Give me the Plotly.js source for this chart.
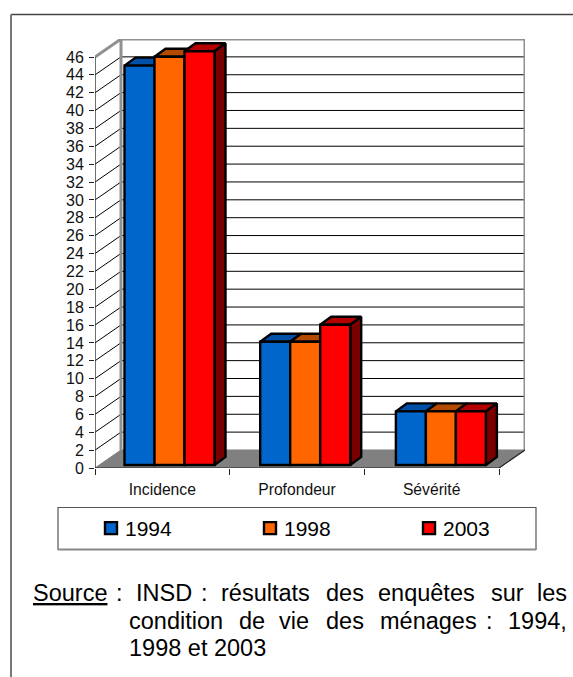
<!DOCTYPE html>
<html><head><meta charset="utf-8">
<script src="https://cdn.plot.ly/plotly-3.0.1.min.js"></script>
<style>html,body{margin:0;padding:0;background:#fff}#c{width:573px;height:677px}</style>
</head><body><div id="c"></div>
<script>
const categories=['Incidence','Profondeur','Sévérité'];
const seriesNames=['1994','1998','2003'];
const v1994=[44.7,13.8,6.0];
const v1998=[45.7,13.8,6.0];
const v2003=[46.3,15.7,6.0];
const yTicks=[0,2,4,6,8,10,12,14,16,18,20,22,24,26,28,30,32,34,36,38,40,42,44,46];
const frontColors=['#0066cc','#ff6600','#ff0000'];
const topColors=['#0050a8','#b34a00','#b30000'];
const sideColor='#7a0000';
const sourceLines=[
 {y:601,words:[['<u>Source</u>',32],[':',115],['INSD',135],[':',200],['résultats',220],['des',325],['enquêtes',377],['sur',490],['les',536]]},
 {y:629,words:[['condition',128],['de',238],['vie',278],['des',325],['ménages',379],[':',485],['1994,',507]]},
 {y:656,words:[['1998 et 2003',128]]}
];
const L=95,T=39,W=430,H=429;
const unitX=134.67,unitY=8.93;
const wallDX=26/unitX,wallDY=18/unitY,xEnd=3,yTop=46;
const barW=30/unitX,barDX=11/unitX,barDY=8/unitY,barBase=3/unitY;
const groupCenter=i=>(74.5+i*135.7)/unitX;
const vals=[v1994,v1998,v2003];
const px=x=>(x-L)/W, py=y=>(T+H-y)/H;
const FONT='Liberation Sans, Arial, sans-serif';
const traces=[];
function poly(xs,ys,fill,line,lw){
 traces.push({type:'scatter',mode:lw?'lines':'none',x:xs,y:ys,fill:'toself',fillcolor:fill,
  line:{color:line,width:lw||0},showlegend:false,hoverinfo:'skip',xaxis:'x',yaxis:'y'});
}
function lines(xs,ys,color,w){
 traces.push({type:'scatter',mode:'lines',x:xs,y:ys,line:{color:color,width:w},showlegend:false,hoverinfo:'skip',xaxis:'x',yaxis:'y',connectgaps:false});
}
poly([0,xEnd,xEnd+wallDX,wallDX,0],[0,0,wallDY,wallDY,0],'#808080','#808080',1);
const gx=[],gy=[];
yTicks.forEach(t=>{ if(t>0&&t<yTop){gx.push(0,wallDX,xEnd+wallDX,null);gy.push(t,t+wallDY,t+wallDY,null);} });
lines(gx,gy,'#000000',1);
lines([0,wallDX,wallDX],[yTop,yTop+wallDY,wallDY],'#909090',3);
lines([wallDX,xEnd+wallDX,xEnd+wallDX],[yTop+wallDY,yTop+wallDY,wallDY],'#909090',3);
lines([0,0],[0,yTop],'#333333',1.4);
lines([0,xEnd,xEnd+wallDX],[0,0,wallDY],'#222222',1.2);
vals.forEach((s,k)=>{
 s.forEach((v,i)=>{
  const x0=groupCenter(i)+(k-1.5)*barW, x1=x0+barW, t=barBase+v;
  poly([x0,x1,x1+barDX,x0+barDX,x0],[t,t,t+barDY,t+barDY,t],topColors[k],'#000000',2.4);
  if(k===2) poly([x1,x1+barDX,x1+barDX,x1,x1],[t,t+barDY,barBase+barDY,barBase,t],sideColor,'#000000',2.4);
 });
});
vals.forEach((s,k)=>{
 traces.push({type:'bar',name:seriesNames[k],x:s.map((_,i)=>groupCenter(i)+(k-1)*barW),y:s,base:barBase,width:barW,
  marker:{color:frontColors[k],line:{color:'#000000',width:2.4}},xaxis:'x2',yaxis:'y2',hoverinfo:'x+y'});
});
const xr=[0,xEnd+wallDX], yr=[0,yTop+wallDY];
const annotations=[];
sourceLines.forEach(l=>l.words.forEach(w=>{
 annotations.push({xref:'paper',yref:'paper',x:px(w[1]),y:py(l.y+6),xanchor:'left',yanchor:'bottom',text:w[0],showarrow:false,borderpad:0,
  font:{family:FONT,size:23.5,color:'#000'}});
}));
const layout={
 width:573,height:677,paper_bgcolor:'#fff',plot_bgcolor:'rgba(0,0,0,0)',
 margin:{l:L,t:T,r:573-L-W,b:677-T-H,pad:0},
 barmode:'overlay',font:{family:FONT,color:'#000'},
 xaxis:{range:xr,showgrid:false,zeroline:false,showline:false,tickmode:'array',tickvals:[0.5,1.5,2.5],ticktext:categories,ticks:'',
  tickfont:{size:15.7,family:FONT,color:'#111'},ticklabelstandoff:10,
  minor:{tickmode:'array',tickvals:[0,1,2,3],ticks:'outside',ticklen:6,tickwidth:1,tickcolor:'#222',showgrid:false}},
 yaxis:{range:yr,showgrid:false,zeroline:false,showline:false,tickmode:'array',tickvals:yTicks,ticks:'outside',ticklen:5,tickwidth:1,tickcolor:'#222',
  tickfont:{size:16,family:FONT,color:'#111'},ticklabelstandoff:2},
 xaxis2:{range:xr,overlaying:'x',visible:false,matches:null},
 yaxis2:{range:yr,overlaying:'y',visible:false},
 showlegend:true,
 legend:{orientation:'h',x:px(60),xanchor:'left',y:py(528.5),yanchor:'middle',bgcolor:'rgba(0,0,0,0)',borderwidth:0,
  entrywidth:114,entrywidthmode:'pixels',font:{size:21,family:FONT,color:'#000'},traceorder:'normal'},
 shapes:[
  {type:'rect',xref:'paper',yref:'paper',x0:px(58),x1:px(536),y0:py(549.5),y1:py(507.5),line:{color:'#555',width:1.2},layer:'below'},
  {type:'line',xref:'paper',yref:'paper',x0:px(58),x1:px(536),y0:py(549.5),y1:py(549.5),line:{color:'#888',width:2},layer:'below'},
  {type:'line',xref:'paper',yref:'paper',x0:px(11),x1:px(573),y0:py(14.5),y1:py(14.5),line:{color:'#444',width:1.5}},
  {type:'line',xref:'paper',yref:'paper',x0:px(11),x1:px(11),y0:py(14.5),y1:py(677),line:{color:'#777',width:2}}
 ],
 annotations:annotations
};
Plotly.newPlot('c',traces,layout,{displayModeBar:false,responsive:false}).then(()=>{
 document.querySelectorAll('.legendtext').forEach(t=>{t.setAttribute('x',Number(t.getAttribute('x'))-6);});
 const g=document.querySelector('.legend');
 const m=/translate\(([-\d.]+)[ ,]+([-\d.]+)\)/.exec(g.getAttribute('transform'));
 if(m) g.setAttribute('transform','translate('+(Number(m[1])+31)+','+m[2]+')');
});
</script></body></html>
